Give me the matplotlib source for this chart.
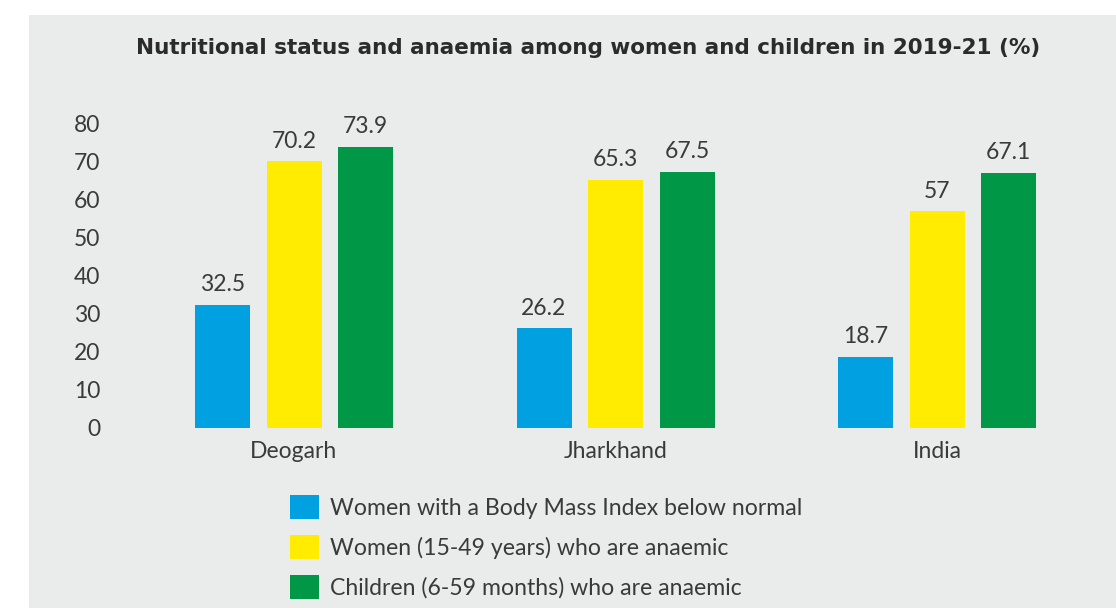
import matplotlib
matplotlib.use("Agg")
import matplotlib.pyplot as plt
import numpy as np
from matplotlib.patches import Rectangle

regions = ["Deogarh", "Jharkhand", "India"]
series_names = [
    "Women with a Body Mass Index below normal",
    "Women (15-49 years) who are anaemic",
    "Children (6-59 months) who are anaemic",
]
bmi_below_normal = [32.5, 26.2, 18.7]
women_anaemic = [70.2, 65.3, 57]
children_anaemic = [73.9, 67.5, 67.1]
value_labels = [
    ["32.5", "26.2", "18.7"],
    ["70.2", "65.3", "57"],
    ["73.9", "67.5", "67.1"],
]
colors = ["#00a0e1", "#ffec00", "#009846"]
y_ticks = [0, 10, 20, 30, 40, 50, 60, 70, 80]

plt.rcParams["font.family"] = ["Lato", "DejaVu Sans"]
text_color = "#3a3a3a"

W, H = 1116, 608
fig = plt.figure(figsize=(W / 100, H / 100), dpi=100, facecolor="white")
fig.patches.append(
    Rectangle((29 / W, 0), 1 - 29 / W, 1 - 15 / H, transform=fig.transFigure,
              facecolor="#eaebeb", edgecolor="none", zorder=-10)
)

# axes: bars start at y=428px, 80 sits at y=124px
ax = fig.add_axes([110 / W, (H - 428) / H, (1100 - 110) / W, 304 / H])
ax.set_facecolor("none")

x = np.arange(len(regions))
step = 71.5 / 321.5
width = 55 / 321.5
all_series = [bmi_below_normal, women_anaemic, children_anaemic]
for i, (vals, name, col) in enumerate(zip(all_series, series_names, colors)):
    bars = ax.bar(x + (i - 1) * step, vals, width, color=col, label=name)
    ax.bar_label(bars, labels=value_labels[i], padding=7, fontsize=16.5,
                 color=text_color)

ax.set_xlim((110 - 294) / 321.5, (1100 - 294) / 321.5)
ax.set_ylim(0, 80)
ax.set_yticks(y_ticks)
ax.set_xticks(x)
ax.set_xticklabels(regions)
ax.tick_params(length=0, labelsize=16.5, labelcolor=text_color)
ax.tick_params(axis="x", pad=9)
ax.tick_params(axis="y", pad=7)
for s in ax.spines.values():
    s.set_visible(False)

fig.text(588 / W, 1 - 48 / H,
         "Nutritional status and anaemia among women and children in 2019-21 (%)",
         ha="center", va="center", fontsize=15.5, fontweight="bold",
         color="#2b2b2b", family="DejaVu Sans")

fig.legend(loc="upper left", bbox_to_anchor=(290 / W, 1 - 495 / H),
           frameon=False, fontsize=16.6, labelcolor=text_color,
           handlelength=1.25, handleheight=1.25, handletextpad=0.48,
           labelspacing=0.68, borderpad=0, borderaxespad=0)

fig.savefig("out.png", dpi=100, facecolor="white")
